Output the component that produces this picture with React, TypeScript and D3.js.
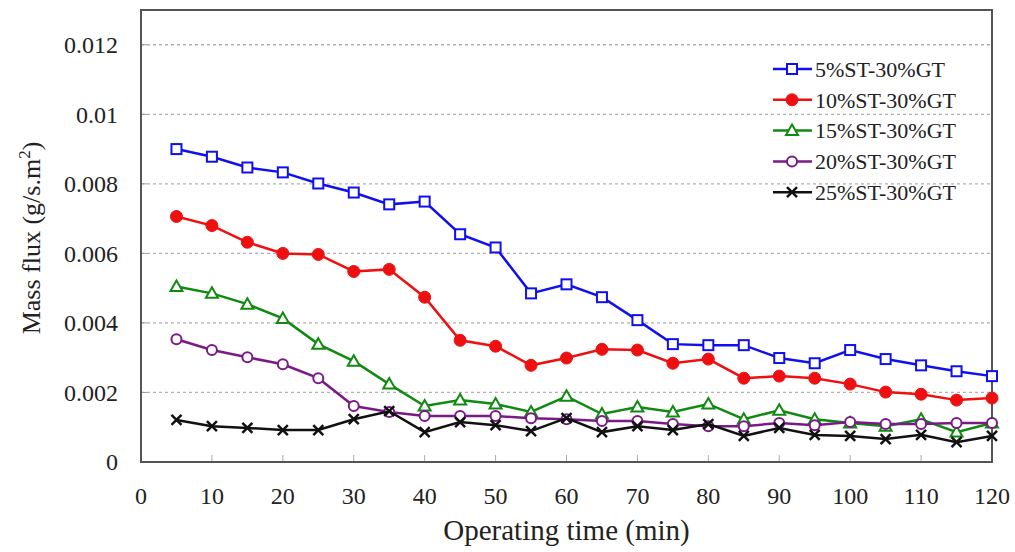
import React from "react";
import * as d3 from "d3";

const times = [5,10,15,20,25,30,35,40,45,50,55,60,65,70,75,80,85,90,95,100,105,110,115,120];
const s5 = [0.0090,0.00878,0.00847,0.00833,0.00801,0.00775,0.00741,0.00749,0.00655,0.00617,0.00485,0.00511,0.00474,0.00408,0.00339,0.00336,0.00336,0.00299,0.00284,0.00322,0.00296,0.00278,0.00261,0.00247];
const s10 = [0.00706,0.00680,0.00632,0.00600,0.00597,0.00548,0.00554,0.00474,0.00350,0.00333,0.00278,0.00299,0.00324,0.00322,0.00284,0.00296,0.00241,0.00247,0.00241,0.00224,0.00201,0.00195,0.00178,0.00184];
const s15 = [0.00505,0.00485,0.00454,0.00413,0.00339,0.00290,0.00224,0.00161,0.00178,0.00167,0.00144,0.00189,0.00138,0.00158,0.00144,0.00167,0.00123,0.00149,0.00123,0.00112,0.00103,0.00123,0.00086,0.00112];
const s20 = [0.00353,0.00322,0.00301,0.00281,0.00241,0.00161,0.00144,0.00132,0.00132,0.00132,0.00126,0.00123,0.00118,0.00118,0.00109,0.00103,0.00103,0.00112,0.00106,0.00115,0.00109,0.00109,0.00112,0.00112];
const s25 = [0.00121,0.00103,0.00098,0.00092,0.00092,0.00123,0.00146,0.00086,0.00115,0.00106,0.00089,0.00126,0.00086,0.00103,0.00092,0.00109,0.00075,0.00098,0.00078,0.00075,0.00066,0.00078,0.00057,0.00075];
const seriesNames = ["5%ST-30%GT","10%ST-30%GT","15%ST-30%GT","20%ST-30%GT","25%ST-30%GT"];
const xTicks = [0,10,20,30,40,50,60,70,80,90,100,110,120];
const yTicks = [0,0.002,0.004,0.006,0.008,0.01,0.012];
const yTickLabels = ["0","0.002","0.004","0.006","0.008","0.01","0.012"];

const seriesData = [s5, s10, s15, s20, s25];
const colors = ["#1010ee", "#ee1010", "#108a10", "#7a1a86", "#111111"];
const markers = ["square", "circle", "triangle", "ocircle", "cross"];

const L = 141, R = 992, T = 10, B = 462;
const FONT = "'Liberation Serif', 'Times New Roman', serif";

function Marker({ type, x, y, color }: { type: string; x: number; y: number; color: string }) {
  if (type === "square") return <rect x={x - 5} y={y - 5} width={10} height={10} fill="white" stroke={color} strokeWidth={2} />;
  if (type === "circle") return <circle cx={x} cy={y} r={6} fill={color} stroke={color} strokeWidth={1} />;
  if (type === "triangle") return <path d={`M${x},${y - 6}L${x + 6},${y + 4.5}L${x - 6},${y + 4.5}Z`} fill="white" stroke={color} strokeWidth={2} />;
  if (type === "ocircle") return <circle cx={x} cy={y} r={5} fill="white" stroke={color} strokeWidth={2} />;
  return <path d={`M${x - 5},${y - 5}L${x + 5},${y + 5}M${x - 5},${y + 5}L${x + 5},${y - 5}`} stroke={color} strokeWidth={2.5} />;
}

export default function App() {
  const x = d3.scaleLinear().domain([0, 120]).range([L, R]);
  const y = d3.scaleLinear().domain([0, 0.013]).range([B, T]);
  const line = d3.line<number>().x((_, i) => x(times[i])).y((d) => y(d));

  return (
    <svg width={1015} height={552} style={{ position: "absolute", left: 0, top: 0, background: "white" }}>
      <rect width={1015} height={552} fill="white" />
      {yTicks.slice(1).map((t) => (
        <line key={t} x1={L} x2={R} y1={y(t)} y2={y(t)} stroke="#b0b0b0" strokeWidth={1.3} strokeDasharray="3,3" />
      ))}
      {yTicks.map((t) => (
        <line key={"yt" + t} x1={L} x2={L + 6} y1={y(t)} y2={y(t)} stroke="#999" strokeWidth={1} />
      ))}
      {xTicks.slice(1, -1).map((t) => (
        <line key={"xt" + t} x1={x(t)} x2={x(t)} y1={B} y2={B - 7} stroke="#aaa" strokeWidth={1} />
      ))}
      <rect x={L} y={T} width={R - L} height={B - T} fill="none" stroke="#555" strokeWidth={2} />
      {seriesData.map((s, k) => (
        <g key={k}>
          <path d={line(s) || ""} fill="none" stroke={colors[k]} strokeWidth={2.5} />
          {s.map((v, i) => (
            <Marker key={i} type={markers[k]} x={x(times[i])} y={y(v)} color={colors[k]} />
          ))}
        </g>
      ))}
      {yTicks.map((t, i) => (
        <text key={"yl" + t} x={118} y={y(t)} dy="0.35em" textAnchor="end" fontFamily={FONT} fontSize={24} fill="#222">{yTickLabels[i]}</text>
      ))}
      {xTicks.map((t) => (
        <text key={"xl" + t} x={x(t)} y={496} dy="0.35em" textAnchor="middle" fontFamily={FONT} fontSize={24} fill="#222">{t}</text>
      ))}
      <text x={(L + R) / 2} y={540} textAnchor="middle" fontFamily={FONT} fontSize={29} fill="#222">Operating time (min)</text>
      <text transform={`translate(40,${(T + B) / 2 + 2}) rotate(-90)`} textAnchor="middle" fontFamily={FONT} fontSize={26} fill="#222">
        Mass flux (g/s.m<tspan dy="-10" fontSize={17}>2</tspan><tspan dy="10">)</tspan>
      </text>
      {seriesNames.map((n, k) => {
        const ly = 69 + k * 30.8;
        return (
          <g key={n}>
            <line x1={773} x2={812} y1={ly} y2={ly} stroke={colors[k]} strokeWidth={2.5} />
            <Marker type={markers[k]} x={792} y={ly} color={colors[k]} />
            <text x={815} y={ly} dy="0.35em" fontFamily={FONT} fontSize={22} fill="#222">{n}</text>
          </g>
        );
      })}
    </svg>
  );
}
